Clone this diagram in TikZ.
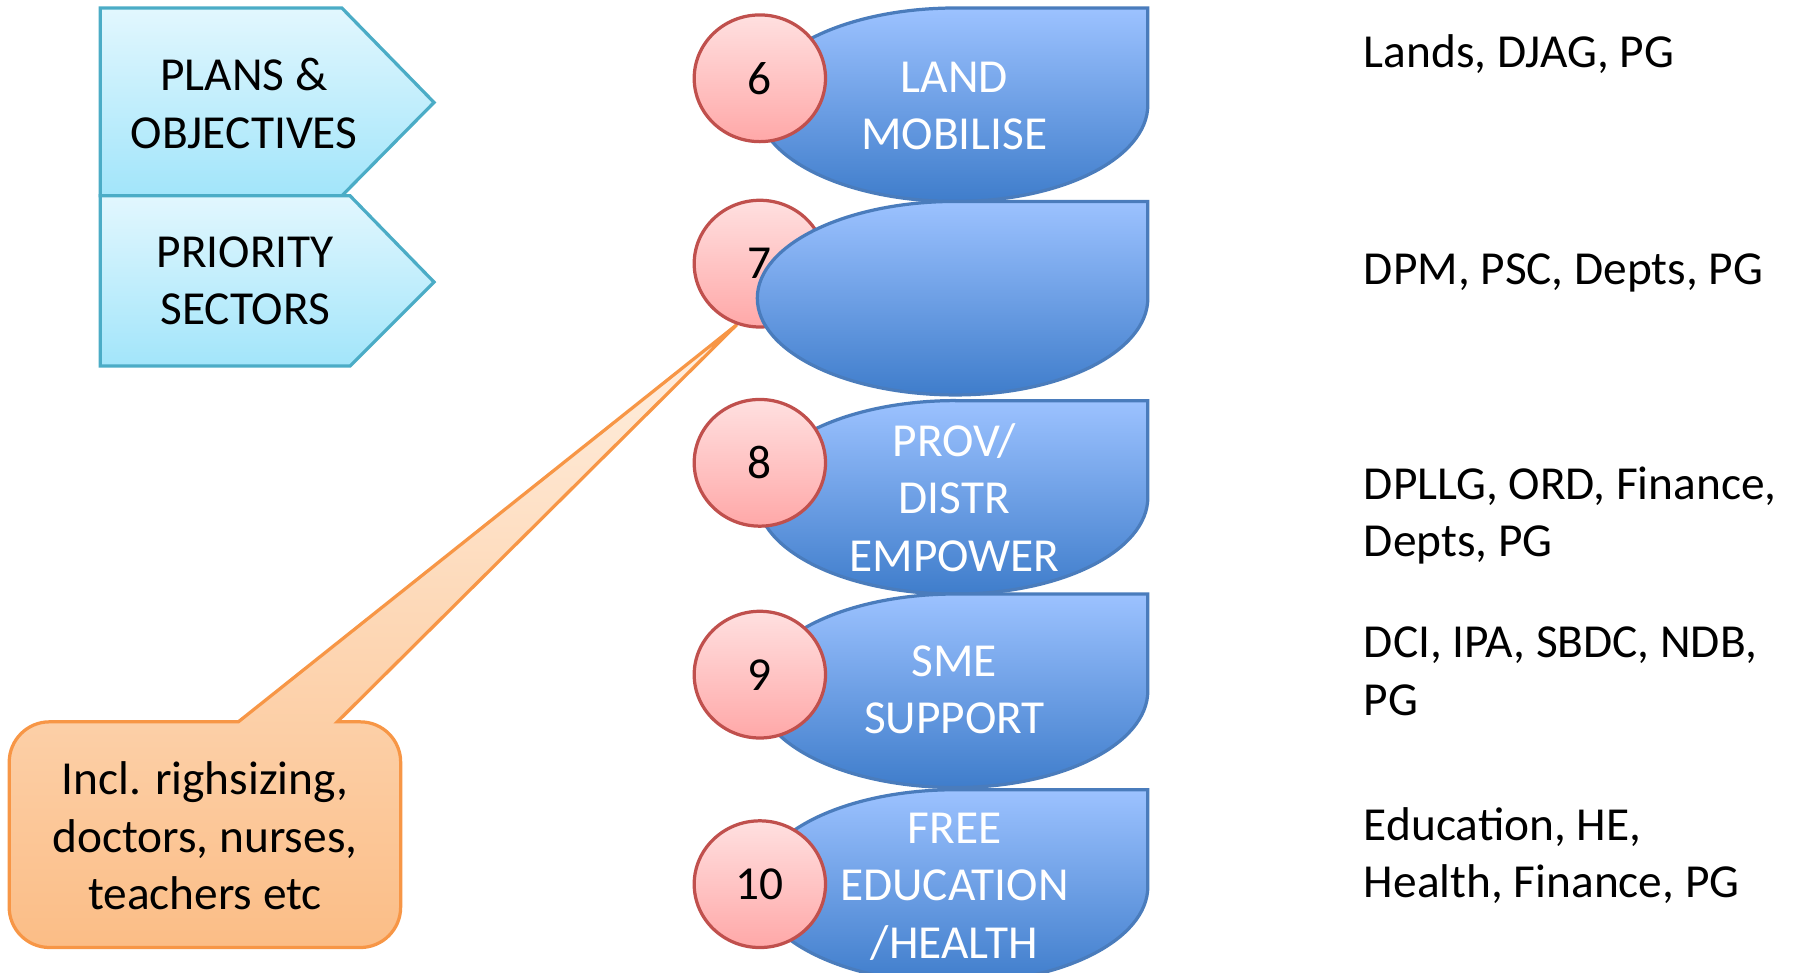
\documentclass[tikz,border=0pt]{standalone}
\usepackage{fontspec}
\setmainfont{Carlito}
\usetikzlibrary{shapes.geometric}
\definecolor{aqualine}{HTML}{4BACC6}
\definecolor{aquatop}{HTML}{E2F7FE}
\definecolor{aquabot}{HTML}{A2E5FA}
\definecolor{blueline}{HTML}{4A7CBC}
\definecolor{bluetop}{HTML}{9CC2FF}
\definecolor{bluebot}{HTML}{3F7DCB}
\definecolor{redline}{HTML}{C0504D}
\definecolor{redtop}{HTML}{FFE0E0}
\definecolor{redbot}{HTML}{FFA8A8}
\definecolor{orline}{HTML}{F79646}
\definecolor{ortop}{HTML}{FFF0E2}
\definecolor{orbot}{HTML}{FBBD86}
\tikzset{
  txt/.style={font=\fontsize{11.7pt}{14.2pt}\selectfont, align=center, inner sep=0pt},
  aquabox/.style={draw=aqualine, line width=0.8pt, top color=aquatop, bottom color=aquabot},
  bluebox/.style={draw=blueline, line width=0.8pt, top color=bluetop, bottom color=bluebot},
  numcirc/.style={ellipse, draw=redline, line width=0.8pt, top color=redtop, bottom color=redbot,
    minimum width=1.14cm, minimum height=1.1cm, inner sep=0pt, font=\fontsize{11.7pt}{14.2pt}\selectfont},
  callout/.style={draw=orline, line width=0.8pt, top color=ortop, bottom color=orbot},
  whitelbl/.style={txt, text=white},
  agency/.style={txt, align=left, anchor=west}
}
\begin{document}
\begin{tikzpicture}[x=0.01cm, y=0.01cm]
\useasboundingbox (0,0) rectangle (1560,845);
% left arrow boxes
\path[aquabox] (87,838) -- (297,838) -- (377,756) -- (297,675) -- (87,675) -- cycle;
\path[aquabox] (87,675) -- (304,675) -- (377,600) -- (304,527) -- (87,527) -- cycle;
\node[txt] (plans) at (212,755) {PLANS \&\\OBJECTIVES};
\node[txt] (prio) at (213,601) {PRIORITY\\SECTORS};
% callout
\path[callout] (207,218) -- (640,563) -- (293,218) -- (313,218)
  arc[start angle=90, end angle=0, radius=0.35cm] -- (348,57)
  arc[start angle=0, end angle=-90, radius=0.35cm] -- (43,22)
  arc[start angle=-90, end angle=-180, radius=0.35cm] -- (8,183)
  arc[start angle=180, end angle=90, radius=0.35cm] -- cycle;
\node[txt] (note) at (178,119) {Incl. righsizing,\\doctors, nurses,\\teachers etc};
% shape 6
\path[bluebox] (830,838) -- (997,838) -- (997,754)
  arc[start angle=0, end angle=-90, x radius=1.67cm, y radius=0.84cm]
  arc[start angle=-90, end angle=-270, x radius=1.72cm, y radius=0.84cm] -- cycle;
\node[numcirc] (c6) at (660,777) {6};
% circle 7 then shape 7
\node[numcirc] (c7) at (660,616) {7};
\path[bluebox] (830,670) -- (997,670) -- (997,586)
  arc[start angle=0, end angle=-90, x radius=1.67cm, y radius=0.84cm]
  arc[start angle=-90, end angle=-270, x radius=1.72cm, y radius=0.84cm] -- cycle;
% shape 8
\path[bluebox] (830,497) -- (997,497) -- (997,413)
  arc[start angle=0, end angle=-90, x radius=1.67cm, y radius=0.84cm]
  arc[start angle=-90, end angle=-270, x radius=1.72cm, y radius=0.84cm] -- cycle;
\node[numcirc] (c8) at (660,443) {8};
% shape 9
\path[bluebox] (830,329) -- (997,329) -- (997,245)
  arc[start angle=0, end angle=-90, x radius=1.67cm, y radius=0.84cm]
  arc[start angle=-90, end angle=-270, x radius=1.72cm, y radius=0.84cm] -- cycle;
\node[numcirc] (c9) at (660,259) {9};
% shape 10
\path[bluebox] (830,159) -- (997,159) -- (997,75)
  arc[start angle=0, end angle=-90, x radius=1.67cm, y radius=0.84cm]
  arc[start angle=-90, end angle=-270, x radius=1.72cm, y radius=0.84cm] -- cycle;
\node[numcirc] (c10) at (660,77) {10};
% labels in blue shapes
\node[whitelbl] (l6) at (829,753) {LAND\\MOBILISE};
\node[whitelbl] (l8) at (829,413) {PROV/\\DISTR\\EMPOWER};
\node[whitelbl] (l9) at (829,246) {SME\\SUPPORT};
\node[whitelbl] (l10) at (829,75) {FREE\\EDUCATION\\/HEALTH};
% agencies
\node[agency] (a6) at (1184,798) {Lands, DJAG, PG};
\node[agency] (a7) at (1184,608) {DPM, PSC, Depts, PG};
\node[agency] (a8) at (1184,397) {DPLLG, ORD, Finance,\\Depts, PG};
\node[agency] (a9) at (1184,262) {DCI, IPA, SBDC, NDB,\\PG};
\node[agency] (a10) at (1184,102) {Education, HE,\\Health, Finance, PG};
\end{tikzpicture}
\end{document}
